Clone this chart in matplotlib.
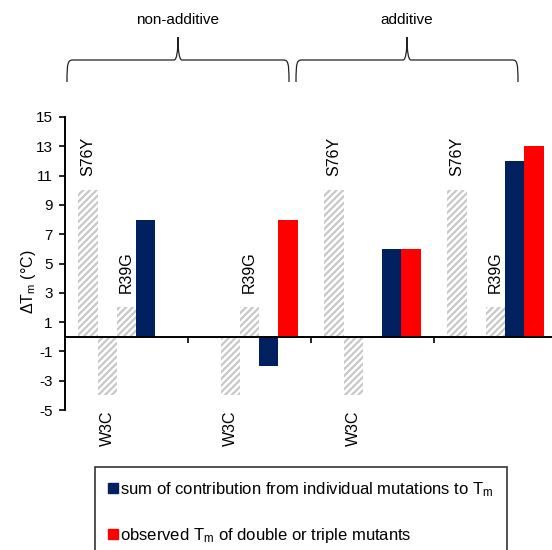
import numpy as np
import matplotlib
matplotlib.use('Agg')
import matplotlib.pyplot as plt
from matplotlib.path import Path
from matplotlib.patches import PathPatch, Patch

plt.rcParams['font.family'] = ['Liberation Sans', 'DejaVu Sans']
plt.rcParams['mathtext.fontset'] = 'custom'
plt.rcParams['mathtext.rm'] = 'Liberation Sans'
plt.rcParams['mathtext.default'] = 'regular'
plt.rcParams['axes.unicode_minus'] = False
plt.rcParams['hatch.linewidth'] = 1.6

# data (delta Tm, degC) per mutant group
n_groups = 4
s76y = [10, np.nan, 10, 10]
w3c = [-4, -4, -4, np.nan]
r39g = [2, 2, np.nan, 2]
predicted = [8, -2, 6, 12]
observed = [0, 8, 6, 13]
yticks = np.arange(-5, 16, 2)
group_titles = ['non-additive', 'additive']

blue = '#002060'
red = '#ff0000'
hatch_grey = '#c8c8c8'

W, H = 552, 550
fig = plt.figure(figsize=(W / 100, H / 100), dpi=100)
ax = fig.add_axes([65 / W, 1 - 410 / H, 492 / W, 293 / H])

x = np.arange(n_groups)
bw = 0.157
series = [s76y, w3c, r39g]
for k, vals in enumerate(series):
    ax.bar(x + (k - 2) * bw, vals, bw, facecolor='white', edgecolor=hatch_grey,
           linewidth=0, hatch='/////', zorder=2)
ax.bar(x + 1 * bw, predicted, bw, color=blue, zorder=3)
ax.bar(x + 2 * bw, observed, bw, color=red, zorder=3)

# mutation labels
for i in range(n_groups):
    if not np.isnan(s76y[i]):
        ax.text(x[i] - 2 * bw, 11, 'S76Y', rotation=90, ha='center', va='bottom', fontsize=11.5)
    if not np.isnan(r39g[i]):
        ax.text(x[i], 3, 'R39G', rotation=90, ha='center', va='bottom', fontsize=11.5)
    if not np.isnan(w3c[i]):
        ax.text(x[i] - bw, -5.05, 'W3C', rotation=90, ha='center', va='top', fontsize=11.5)

ax.set_xlim(-0.5, n_groups - 0.5)
ax.set_ylim(-5, 15)
ax.set_yticks(yticks)
ax.set_xticks(x[:-1] + 0.5)
ax.set_xticklabels([])
ax.spines['top'].set_visible(False)
ax.spines['right'].set_visible(False)
ax.spines['bottom'].set_position(('data', 0))
ax.spines['bottom'].set_zorder(4)
for s in ['left', 'bottom']:
    ax.spines[s].set_linewidth(1.4)
ax.tick_params(axis='both', direction='out', length=4, width=1.2, labelsize=11)
ax.tick_params(axis='y', pad=5)

fig.text(28 / W, 1 - 282 / H, r'ΔT$_m$ (°C)', rotation=90, ha='center', va='center', fontsize=11.5)


# curly braces above the groups
def brace(x0, x1, xm, yb, yl, yt):
    px = lambda a, b: (a / W, 1 - b / H)
    verts = [px(x0, yb), px(x0, yl + 2), px(x0 + 1, yl), px(x0 + 6, yl),
             px(xm - 4, yl), px(xm, yl), px(xm, yt),
             px(xm, yl), px(xm + 4, yl), px(x1 - 6, yl),
             px(x1 - 1, yl), px(x1, yl + 2), px(x1, yb)]
    codes = [Path.MOVETO, Path.CURVE4, Path.CURVE4, Path.CURVE4,
             Path.LINETO, Path.CURVE3, Path.CURVE3,
             Path.CURVE3, Path.CURVE3, Path.LINETO,
             Path.CURVE4, Path.CURVE4, Path.CURVE4]
    fig.add_artist(PathPatch(Path(verts, codes), fill=False, lw=0.9, color='#222222',
                             transform=fig.transFigure))


brace(67, 289, 178, 82, 60, 37)
brace(296, 518, 407, 82, 60, 37)
fig.text(178 / W, 1 - 20 / H, group_titles[0], ha='center', va='center', fontsize=11)
fig.text(407 / W, 1 - 20 / H, group_titles[1], ha='center', va='center', fontsize=11)

handles = [Patch(color=blue, label='sum of contribution from individual mutations to T$_m$'),
           Patch(color=red, label='observed T$_m$ of double or triple mutants')]
leg = fig.legend(handles=handles, loc='upper left', bbox_to_anchor=(95 / W, 1 - 467 / H),
                 fontsize=12, frameon=True, fancybox=False, edgecolor='black',
                 handlelength=0.55, handleheight=0.55, handletextpad=0.15,
                 labelspacing=1.6, borderpad=0.8, borderaxespad=0)
leg.get_frame().set_linewidth(1.2)

fig.savefig('out.png', dpi=100)
